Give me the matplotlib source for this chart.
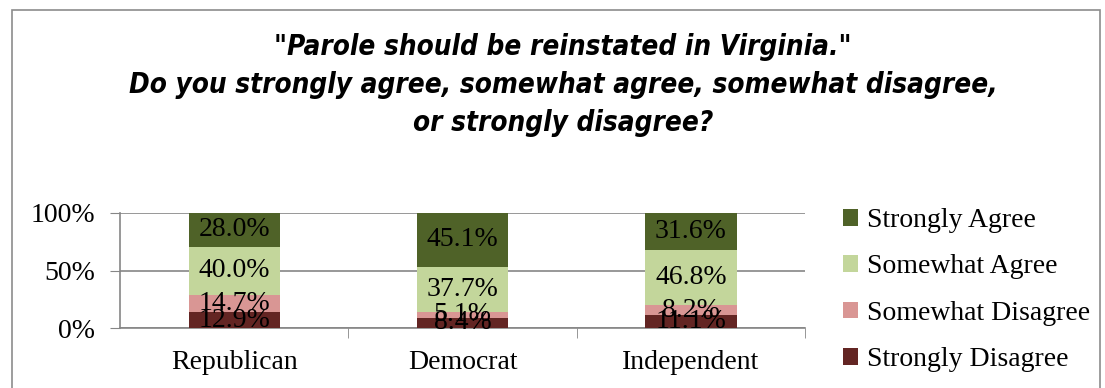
import matplotlib.pyplot as plt
import matplotlib.patches as mpatches
import numpy as np

parties = ["Republican", "Democrat", "Independent"]
responses = ["Strongly Disagree", "Somewhat Disagree", "Somewhat Agree", "Strongly Agree"]
strongly_disagree = [12.9, 8.4, 11.1]
somewhat_disagree = [14.7, 5.1, 8.2]
somewhat_agree = [40.0, 37.7, 46.8]
strongly_agree = [28.0, 45.1, 31.6]
colors = ["#632523", "#D99694", "#C3D69B", "#4F6228"]

serif = ["Liberation Serif", "DejaVu Serif"]
fs = 20

fig = plt.figure(figsize=(11.05, 3.88), dpi=100)
W, H = 1105, 388

# outer chart frame
fig.patches.append(mpatches.Rectangle((12 / W, -0.1), (1100 - 12) / W, 1.1 - 10 / H,
                                      transform=fig.transFigure, fill=False,
                                      edgecolor="#8c8c8c", linewidth=1.2))

ax = fig.add_axes([120 / W, 1 - 328 / H, (805 - 120) / W, (328 - 213) / H])

series = [strongly_disagree, somewhat_disagree, somewhat_agree, strongly_agree]
data = np.array(series)
totals = data.sum(axis=0)
pct = data / totals * 100

x = np.arange(len(parties))
bottom = np.zeros(len(parties))
handles = []
for i, name in enumerate(responses):
    b = ax.bar(x, pct[i], 0.4, bottom=bottom, color=colors[i], label=name, zorder=3)
    handles.append(b)
    for j in range(len(parties)):
        ax.text(x[j], bottom[j] + pct[i][j] / 2, "%.1f%%" % data[i][j],
                ha="center", va="center", fontsize=fs, family=serif, zorder=4)
    bottom += pct[i]

ax.set_xlim(-0.5, 2.5)
ax.set_ylim(0, 100)
ax.set_yticks([0, 50, 100])
ax.set_yticklabels(["0%", "50%", "100%"], fontsize=fs, family=serif)
ax.yaxis.grid(True, color="#868686", linewidth=1.2, zorder=0)
ax.set_xticks(x)
ax.set_xticklabels(parties, fontsize=fs, family=serif)
ax.tick_params(axis="x", length=0, pad=16)
ax.tick_params(axis="y", length=7, color="#868686", pad=11)
ax.set_xticks([0.5, 1.5, 2.5], minor=True)
ax.tick_params(axis="x", which="minor", length=7, color="#868686")
for s in ["top", "right"]:
    ax.spines[s].set_visible(False)
for s in ["left", "bottom"]:
    ax.spines[s].set_color("#868686")
    ax.spines[s].set_linewidth(1.2)

ax.legend(handles[::-1], responses[::-1], loc="upper left",
          bbox_to_anchor=(818 / W, 1 - 183 / H), bbox_transform=fig.transFigure,
          frameon=False, prop={"family": serif, "size": fs},
          handlelength=0.55, handleheight=0.55, handletextpad=0.3, labelspacing=0.77)

fig.text(563 / W, 1 - 85 / H,
         "\"Parole should be reinstated in Virginia.\"\n"
         "Do you strongly agree, somewhat agree, somewhat disagree,\n"
         "or strongly disagree?",
         ha="center", va="center", fontsize=20, fontweight="bold", style="italic",
         family="DejaVu Sans", fontstretch="condensed", linespacing=1.45)

fig.savefig("out.png", dpi=100)
